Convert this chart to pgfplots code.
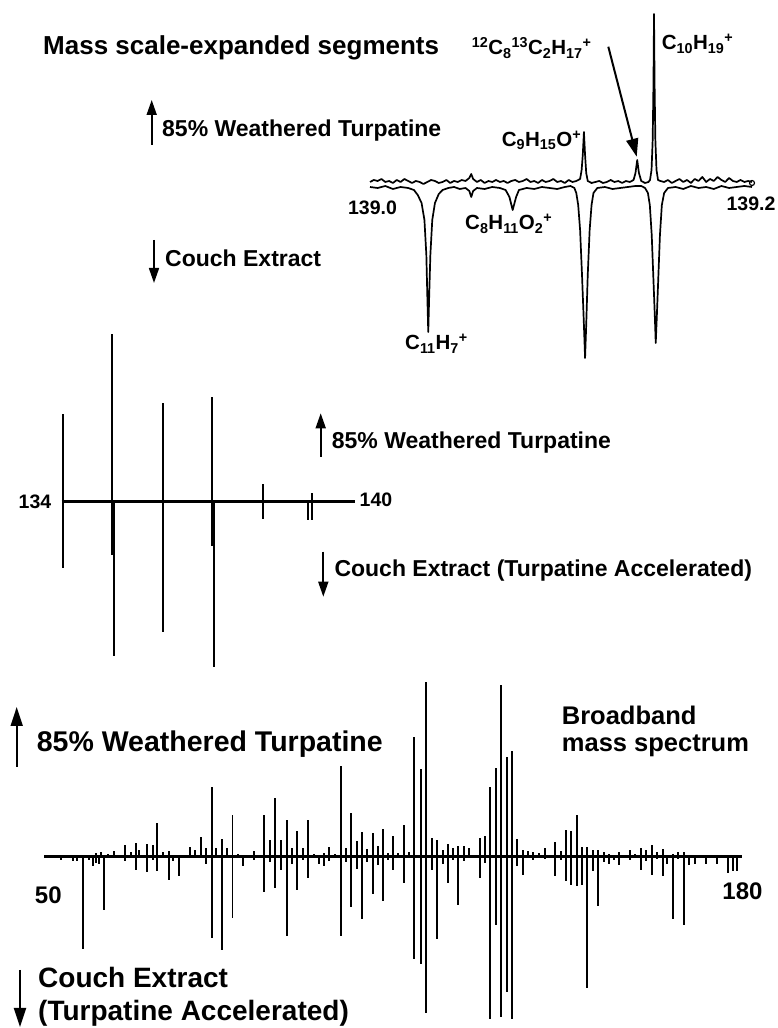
\documentclass[border=0pt]{standalone}
\usepackage{fontspec}
\setmainfont{Liberation Sans}
\usepackage{pgfplots}
\pgfplotsset{compat=1.18}
\usepackage{pgfplotstable}
\usetikzlibrary{arrows.meta}

% Broadband spectrum: m/z, turpentine (up), couch extract (down)
\pgfplotstableread{
m up dn
53.11 0 -3.3
55.46 0 -4.3
56.09 0 -5
57.21 0 -92.3
58.44 0 -3.3
59.18 0 -10
59.69 3.3 -6.7
60.19 0 -7.7
60.67 4.3 0
61.18 0 -53.3
61.98 2 0
63.04 5 0
65.09 11 -4.3
66.15 4.3 0
67.14 13.3 -13.3
67.75 6.7 0
69.13 12.7 -15.7
70.25 11.7 -3.3
71.10 33.3 -15
72.22 4.3 0
73.34 5.7 -23.3
74.08 0 -4.3
75.20 1.7 -20
77.19 9 0
78.12 6.7 0
79.24 19 0
80.12 8.3 -7.7
81.23 69 -81.5
82.04 8.3 0
83.10 17.5 -93
84.14 8.3 0
85.11 41.5 -62
86.19 2.7 0
87.12 0 -10
89.11 5 -3.3
91.03 41.7 -36
92.09 16 -6
93.08 58.3 -31.7
94.14 16 -14
95.20 36 -79.3
96.19 8.3 -7.3
97.18 25.7 -34
98.18 8.3 -3.3
99.23 36 -21.7
100.29 2.7 0
101.16 0 -7.3
102.15 3.3 -9.3
103.14 9.3 -5
104.20 2.7 0
105.26 90.7 -79.3
106.25 8.3 -6
107.18 43.3 -51
108.24 15 -12.7
109.17 24.3 -62.7
110.10 7.3 -6
111.22 23.3 -37.3
112.26 10 -8.3
113.20 27.7 -45
114.13 3.3 -3.3
115.06 20.7 -14
115.99 3.3 0
117.05 31.7 -26.7
118.04 4 -1.7
118.97 119.3 -102.7
120.16 87.3 -107.3
121.09 174 -156.7
122.21 18.3 -13.3
123.14 16 -82.7
124.26 6 -7.3
125.19 12.7 -26.7
126.12 8.3 -4
127.16 10.7 -48.3
128.23 10 -5
129.16 8.3 0
131.21 18.3 -21.7
132.14 20.7 -6.7
133.07 69.3 -162.7
134.13 88.3 -68.3
135.06 171.7 -160
136.18 99.3 -135
137.17 105 -162.7
138.15 17.3 -9.3
139.16 6.7 -18.3
140.20 5 -1.7
141.13 4 -3.3
142.25 3.3 -1.7
143.31 8.3 -2.7
145.17 14 -20
146.24 5 -3.3
147.17 26.7 -25
148.15 25 -28.3
149.22 41 -30
150.15 9.3 -28.3
151.19 9.3 -131.7
152.20 6 -15
153.24 6 -49.7
154.30 4.3 -5.7
155.29 2.7 -7.3
156.22 1.7 -4
157.15 4.3 -9
159.14 6 -4
160.07 2.7 0
161.14 8.3 -14
162.12 6 -5
163.18 11.7 -18.3
164.23 4.3 -2.3
165.23 7.7 -20
166.09 1.7 -7.3
167.10 2.7 -63
168.14 4.3 -2.3
169.20 4.3 -68.3
170.19 1.7 -8.3
171.25 1 -7.3
173.30 0 -7.3
175.29 0 -7.3
177.45 1 -16.3
178.27 0 -15
179.02 1 -15
}\bottomdata

\pgfplotsset{panel/.style={scale only axis, axis lines=none, clip=false, anchor=south west}}
\tikzset{upar/.style={line width=1.7pt, -{Triangle[length=15pt,width=10pt]}}}

\begin{document}
\begin{tikzpicture}[font=\bfseries]
\useasboundingbox (0pt,0pt) rectangle (778pt,1028pt);

% ---------- Top panel: mass scale-expanded segment, x = (m/z - 139) in mDa ----------
\begin{axis}[panel, at={(370pt,663pt)}, width=382pt, height=355pt,
  xmin=0, xmax=200, ymin=-180, ymax=175]
\addplot[line width=1.7pt, line join=round, black] coordinates {
(0,3) (2,5) (4,4) (6,6) (8,3) (10,4)
(12,2) (14,5) (16,3) (18,6) (20,4) (22,2)
(24,4) (26,3) (28,1) (30,3) (32,5) (34,4)
(36,2) (38,3) (40,5) (42,2) (44,4) (46,3)
(48,5) (50,4) (52,7) (53,11) (54,6) (56,3)
(58,5) (60,2) (62,4) (64,3) (66,5) (68,3)
(70,4) (72,2) (74,4) (76,5) (78,3) (80,4)
(82,6) (84,3) (86,4) (88,2) (90,5) (92,3)
(94,4) (96,6) (98,3) (100,4) (102,2) (104,5)
(106,3) (108,4) (110.0,6) (110.8,15) (111.4,30) (112.0,53)
(112.6,30) (113.2,12) (114.0,4) (116,2) (118,3) (120,4)
(122,2) (124,3) (126,5) (128,3) (130,4) (132,2)
(134,4) (136,3) (138.0,5) (139.0,12) (139.9,25) (140.8,12)
(142.0,4) (144,2) (145.8,3) (146.6,5) (147.4,15) (148.0,45)
(148.4,100) (148.7,171) (149.0,100) (149.4,45) (150.0,15) (150.8,5)
(152,4) (154,3) (156,5) (158,2) (160,4) (162,6)
(164,3) (166,5) (168,2) (170,6) (172,4) (174,8)
(176,3) (178,6) (180,4) (182,8) (184,5) (186,3)
(188,7) (190,4) (192,3) (194,5) (196,3) (198,4) (200,3)
};
\addplot[line width=1.7pt, line join=round, black] coordinates {
(0,-2) (4,-3) (8,-1) (12,-4) (16,-2) (20,-3)
(23,-5) (25,-10) (27,-18) (28.5,-35) (29.5,-70) (30.0,-110)
(30.5,-147) (31.0,-110) (31.6,-70) (32.6,-35) (34,-18) (36,-9)
(38,-5) (41,-3) (44,-2) (47,-4) (50,-3) (52,-6)
(53,-12) (54,-6) (56,-3) (60,-4) (64,-2) (68,-3)
(71,-5) (73,-12) (74.7,-25) (76.5,-12) (78,-5) (82,-3)
(86,-4) (90,-2) (94,-3) (98,-4) (102,-2) (105,-1)
(107,-3) (108,-8) (109,-20) (110,-45) (111,-90) (112.0,-140)
(112.6,-173) (113.2,-140) (114,-90) (115,-45) (116,-20) (117,-8)
(119,-3) (123,-2) (127,-4) (131,-3) (135,-2) (139,-1)
(142,-1) (144,-3) (145.5,-8) (146.5,-20) (147.5,-50) (148.5,-100)
(149.1,-130) (149.6,-158) (150.2,-130) (150.8,-100) (151.8,-50) (152.8,-20)
(154,-8) (156,-3) (160,-2) (164,-4) (168,-1) (172,-3)
(176,-2) (180,-4) (184,-1) (188,-3) (192,-2) (196,-1) (200,-2)
};
\addplot[only marks, mark=o, mark size=2.5pt, line width=1.2pt, black] coordinates {(200,2)};
\end{axis}

% ---------- Middle panel: 134-140 ----------
\begin{axis}[panel, at={(62.7pt,356.3pt)}, width=295.8pt, height=340pt,
  xmin=134, xmax=140, ymin=-170, ymax=170]
\addplot[line width=2.5pt, black] coordinates {(133.98,0) (139.93,0)};
\addplot[ycomb, line width=1.8pt, black] coordinates {
(134.0,87.7) (135.0,167.7) (136.03,99) (137.03,104.3) (138.07,17.7) (139.06,8.3)};
\addplot[ycomb, line width=1.8pt, black] coordinates {
(134.0,-66.7) (135.0,-53) (135.04,-154.3) (136.04,-130) (137.03,-44) (137.07,-165.7)
(138.07,-17.7) (138.98,-18.3) (139.05,-18.3)};
\end{axis}

% ---------- Bottom panel: broadband 50-180 ----------
\begin{axis}[panel, at={(44pt,0pt)}, width=698pt, height=352pt,
  xmin=50, xmax=180, ymin=-171.5, ymax=180.5]
\addplot[line width=2.6pt, black] coordinates {(50,0) (180,0)};
\addplot[ycomb, line width=1.7pt, black] table[x=m, y=up] {\bottomdata};
\addplot[ycomb, line width=1.7pt, black] table[x=m, y=dn] {\bottomdata};
\end{axis}

% ---------- Texts, top panel ----------
\node[anchor=base west, inner sep=0] at (43pt,973pt) {\fontsize{26}{30}\selectfont Mass scale-expanded segments};
\draw[upar] (151.7pt,883pt) -- (151.7pt,928pt);
\node[anchor=base west, inner sep=0] at (162pt,891.3pt) {\fontsize{23}{27}\selectfont 85\% Weathered Turpatine};
\draw[upar] (154pt,788pt) -- (154pt,745pt);
\node[anchor=base west, inner sep=0] at (165pt,761.3pt) {\fontsize{23}{27}\selectfont Couch Extract};
\node[inner sep=0] at (372.5pt,820pt) {\fontsize{19.5}{22}\selectfont 139.0};
\node[inner sep=0] at (751pt,824pt) {\fontsize{19.5}{22}\selectfont 139.2};
\node[anchor=base west, inner sep=0] at (501.7pt,881.3pt) {\fontsize{20.5}{24}\selectfont C\textsubscript{9}H\textsubscript{15}O\textsuperscript{+}};
\node[anchor=base west, inner sep=0] at (471.7pt,973pt) {\fontsize{20.5}{24}\selectfont \textsuperscript{12}C\textsubscript{8}\textsuperscript{13}C\textsubscript{2}H\textsubscript{17}\textsuperscript{+}};
\draw[line width=2pt, -{Triangle[length=18pt,width=12pt]}] (608.3pt,981.3pt) -- (636.7pt,871.3pt);
\node[anchor=base west, inner sep=0] at (661.7pt,978pt) {\fontsize{20.5}{24}\selectfont C\textsubscript{10}H\textsubscript{19}\textsuperscript{+}};
\node[anchor=base west, inner sep=0] at (465pt,798pt) {\fontsize{20.5}{24}\selectfont C\textsubscript{8}H\textsubscript{11}O\textsubscript{2}\textsuperscript{+}};
\node[anchor=base west, inner sep=0] at (405pt,678pt) {\fontsize{20.5}{24}\selectfont C\textsubscript{11}H\textsubscript{7}\textsuperscript{+}};

% ---------- Texts, middle panel ----------
\node[inner sep=0] at (35pt,526.5pt) {\fontsize{19.5}{22}\selectfont 134};
\node[inner sep=0] at (376pt,528pt) {\fontsize{19.5}{22}\selectfont 140};
\draw[upar] (320.7pt,571.3pt) -- (320.7pt,614.7pt);
\node[anchor=base west, inner sep=0] at (331.7pt,579.7pt) {\fontsize{23}{27}\selectfont 85\% Weathered Turpatine};
\draw[upar] (323.3pt,476.3pt) -- (323.3pt,431.3pt);
\node[anchor=base west, inner sep=0] at (334.3pt,451.3pt) {\fontsize{23}{27}\selectfont Couch Extract (Turpatine Accelerated)};

% ---------- Texts, bottom panel ----------
\draw[line width=1.9pt, -{Triangle[length=19pt,width=12pt]}] (16.7pt,261pt) -- (16.7pt,321pt);
\node[anchor=base west, inner sep=0] at (36.7pt,276.3pt) {\fontsize{28.5}{33}\selectfont 85\% Weathered Turpatine};
\node[anchor=base west, inner sep=0] at (561.7pt,303pt) {\fontsize{25.5}{29}\selectfont Broadband};
\node[anchor=base west, inner sep=0] at (561.7pt,276pt) {\fontsize{25.5}{29}\selectfont mass spectrum};
\node[inner sep=0] at (48.3pt,133pt) {\fontsize{24}{28}\selectfont 50};
\node[inner sep=0] at (742.5pt,136.5pt) {\fontsize{24}{28}\selectfont 180};
\draw[line width=1.9pt, -{Triangle[length=19pt,width=12pt]}] (20pt,58pt) -- (20pt,1pt);
\node[anchor=base west, inner sep=0] at (38pt,40pt) {\fontsize{28}{32}\selectfont Couch Extract};
\node[anchor=base west, inner sep=0] at (38pt,7pt) {\fontsize{28}{32}\selectfont (Turpatine Accelerated)};
\end{tikzpicture}
\end{document}
